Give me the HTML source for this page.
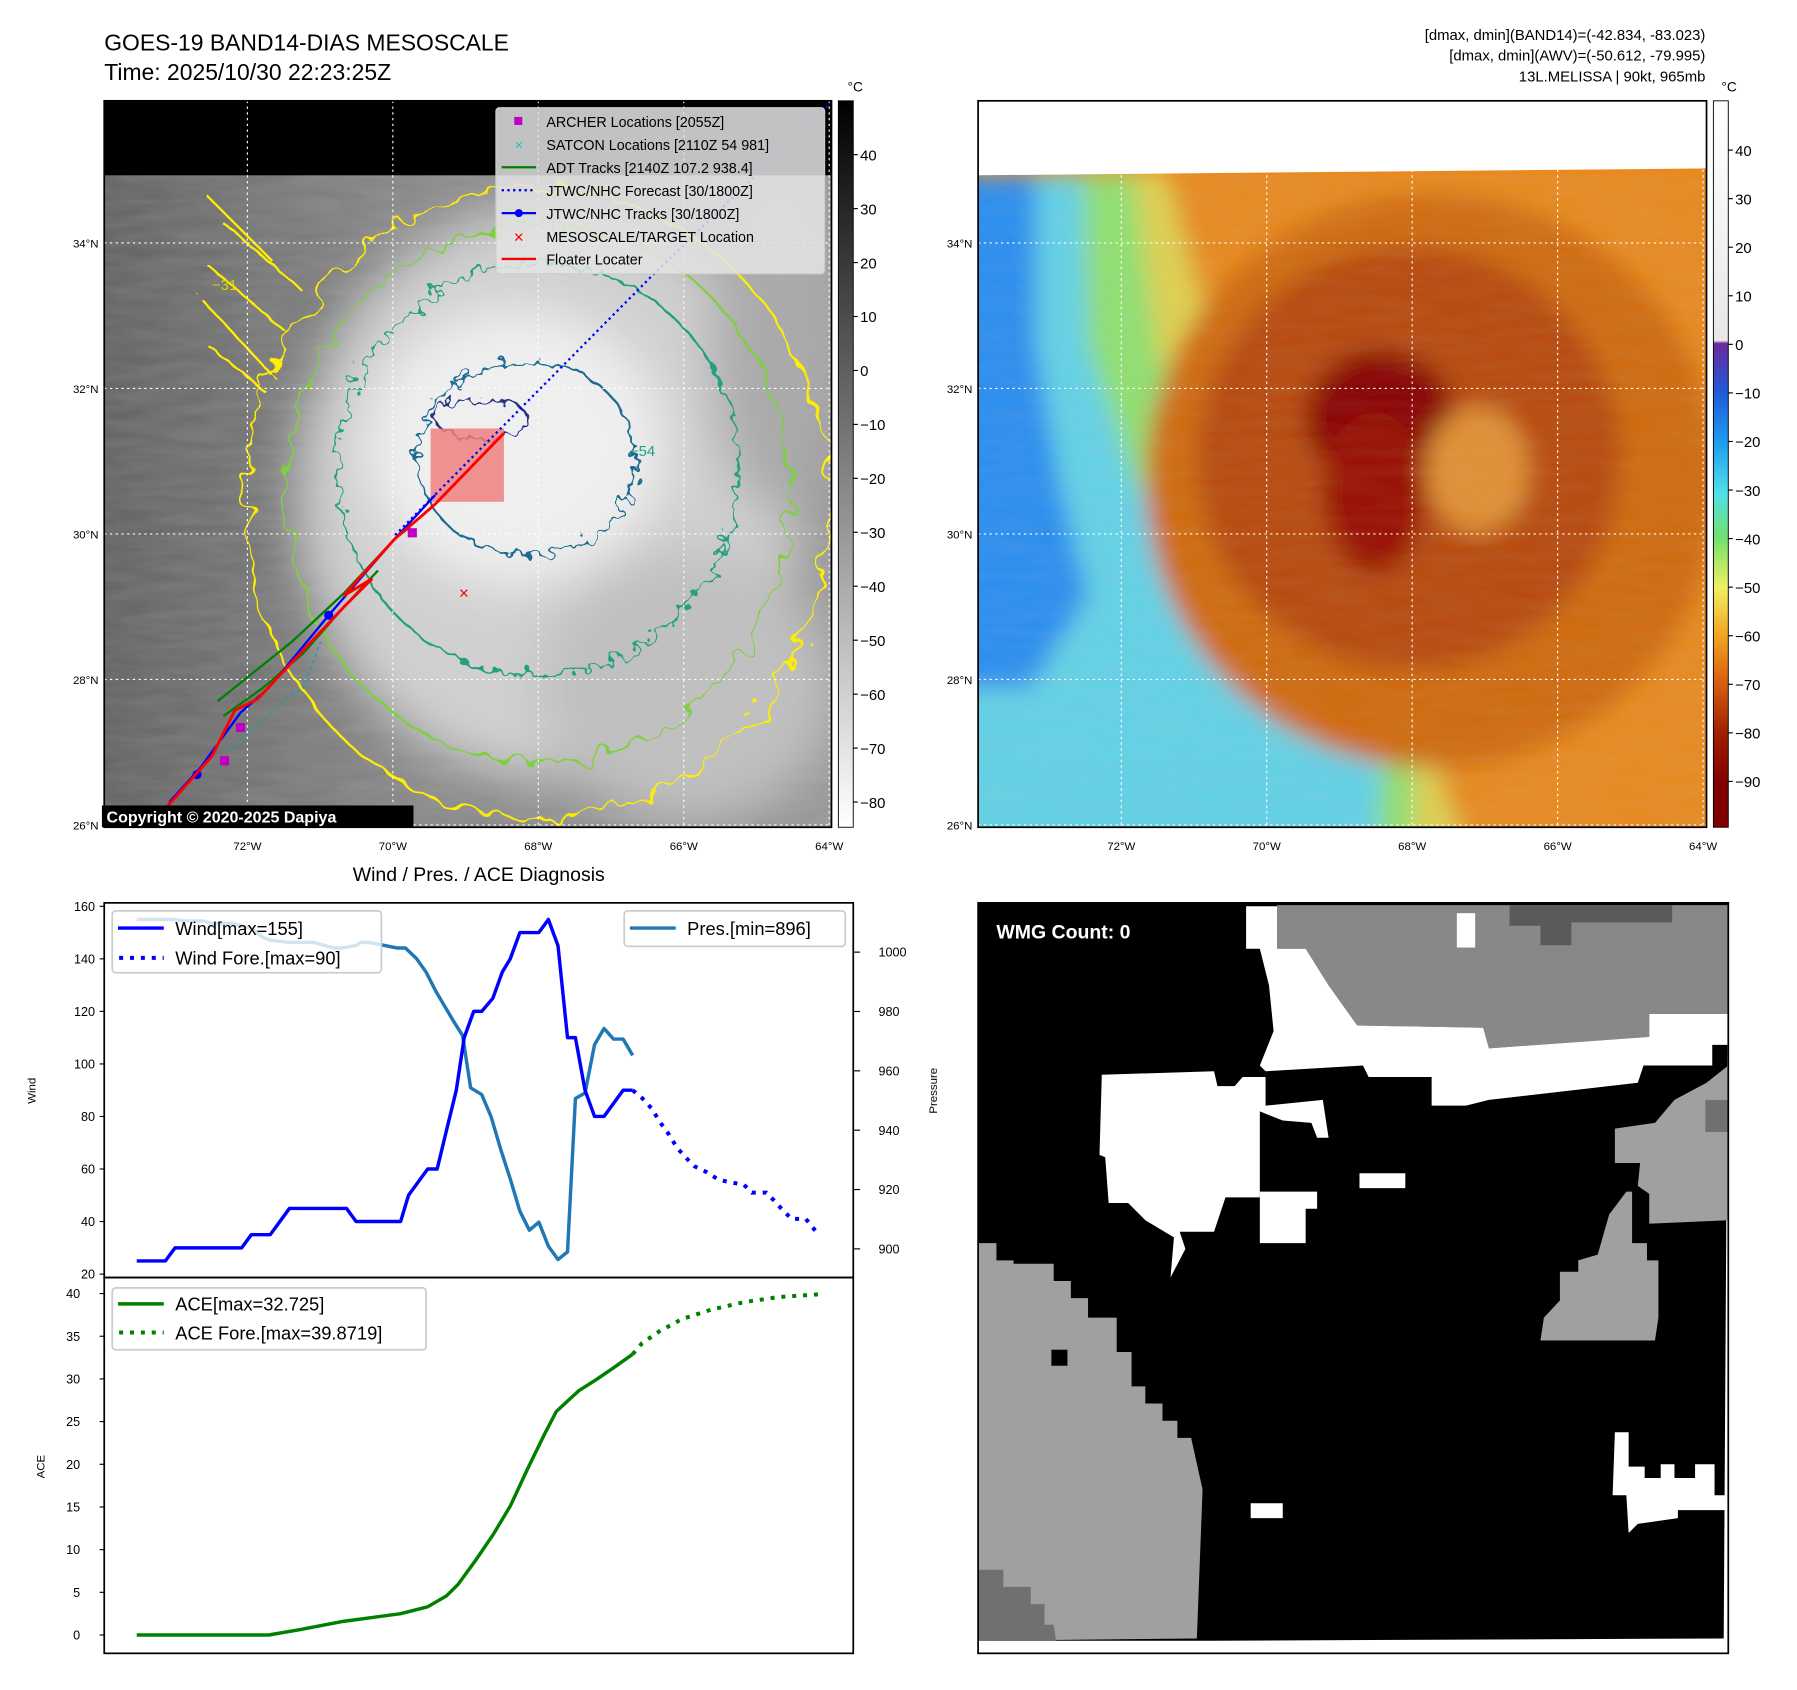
<!DOCTYPE html>
<html><head><meta charset="utf-8"><style>
html,body{margin:0;padding:0;background:#fff;}
svg{display:block;font-family:"Liberation Sans","DejaVu Sans",sans-serif;}
</style></head><body>
<svg id="root" width="1797" height="1690" viewBox="0 0 1569 1475" preserveAspectRatio="none" xmlns="http://www.w3.org/2000/svg">
<defs>
<filter id="blur8" x="-20%" y="-20%" width="140%" height="140%"><feGaussianBlur stdDeviation="10"/></filter>
<filter id="blur20" x="-30%" y="-30%" width="160%" height="160%"><feGaussianBlur stdDeviation="22"/></filter>
<filter id="wig" x="-10%" y="-10%" width="120%" height="120%"><feTurbulence type="fractalNoise" baseFrequency="0.05" numOctaves="2" seed="3"/><feDisplacementMap in="SourceGraphic" scale="28"/></filter>
<filter id="wig2" x="-10%" y="-10%" width="120%" height="120%"><feTurbulence type="fractalNoise" baseFrequency="0.09" numOctaves="2" seed="7"/><feDisplacementMap in="SourceGraphic" scale="22"/></filter>
<filter id="tex" x="0" y="0" width="100%" height="100%"><feTurbulence type="fractalNoise" baseFrequency="0.02 0.12" numOctaves="3" seed="5"/><feColorMatrix type="matrix" values="0 0 0 0 0.5 0 0 0 0 0.5 0 0 0 0 0.5 0 0 0 0.5 0"/></filter>
<clipPath id="clipL"><rect x="91" y="88" width="635" height="634"/></clipPath>
<clipPath id="clipR"><rect x="854" y="88" width="636" height="634"/></clipPath>
<linearGradient id="cbGray" x1="0" y1="0" x2="0" y2="1"><stop offset="0" stop-color="#000"/><stop offset="1" stop-color="#fff"/></linearGradient>
<linearGradient id="cbColor" x1="0" y1="0" x2="0" y2="1">
<stop offset="0" stop-color="#ffffff"/><stop offset="0.33" stop-color="#e8e8e8"/>
<stop offset="0.334" stop-color="#6a2a9a"/><stop offset="0.4" stop-color="#1f5ad8"/><stop offset="0.47" stop-color="#1e9cf0"/>
<stop offset="0.54" stop-color="#50e0e8"/><stop offset="0.6" stop-color="#70e070"/><stop offset="0.67" stop-color="#f0f060"/>
<stop offset="0.74" stop-color="#f0a020"/><stop offset="0.8" stop-color="#d86010"/><stop offset="0.87" stop-color="#a02000"/>
<stop offset="0.94" stop-color="#800000"/><stop offset="1" stop-color="#800000"/></linearGradient>
<linearGradient id="grayBg" x1="0" y1="0" x2="1" y2="0"><stop offset="0" stop-color="#606060"/><stop offset="0.4" stop-color="#858585"/><stop offset="1" stop-color="#959595"/></linearGradient>
</defs>

<text x="91" y="44" font-size="20">GOES-19 BAND14-DIAS MESOSCALE</text>
<text x="91" y="70" font-size="20">Time: 2025/10/30 22:23:25Z</text>
<g font-size="13" text-anchor="end">
<text x="1489" y="35">[dmax, dmin](BAND14)=(-42.834, -83.023)</text>
<text x="1489" y="53">[dmax, dmin](AWV)=(-50.612, -79.995)</text>
<text x="1489" y="71">13L.MELISSA | 90kt, 965mb</text>
</g>

<g>
<g clip-path="url(#clipL)">
<rect x="91" y="88" width="635" height="634" fill="url(#grayBg)"/>
<rect x="91" y="153" width="635" height="569" filter="url(#tex)" opacity="0.5"/>
<g filter="url(#blur20)">
<ellipse cx="480" cy="430" rx="220" ry="250" fill="#d0d0d0"/>
<ellipse cx="450" cy="390" rx="130" ry="120" fill="#efefef"/>
<ellipse cx="600" cy="600" rx="130" ry="120" fill="#c0c0c0"/>
<ellipse cx="680" cy="300" rx="60" ry="150" fill="#aaaaaa"/>
</g>
<g fill="none" stroke-width="2">
<ellipse cx="470" cy="440" rx="255" ry="275" stroke="#ffee00" filter="url(#wig)"/>
<ellipse cx="470" cy="430" rx="220" ry="235" stroke="#7ed040" filter="url(#wig)"/>
<ellipse cx="470" cy="410" rx="175" ry="180" stroke="#20a080" filter="url(#wig2)"/>
<ellipse cx="460" cy="400" rx="95" ry="85" stroke="#1a6a90" filter="url(#wig2)"/>
<ellipse cx="420" cy="365" rx="40" ry="18" stroke="#283080" filter="url(#wig2)"/>
<path d="M180 170 L240 230 M190 190 L260 250 M180 230 L250 290 M175 260 L240 330 M180 300 L230 340" stroke="#ffee00" filter="url(#wig2)"/>
</g>
<rect x="91" y="88" width="635" height="65" fill="#000"/>
<rect x="376" y="374" width="64" height="64" fill="#f08080" opacity="0.85"/>
<g stroke="#fff" stroke-dasharray="2,3">
<line x1="216" y1="88" x2="216" y2="722"/><line x1="343" y1="88" x2="343" y2="722"/><line x1="470" y1="88" x2="470" y2="722"/><line x1="597" y1="88" x2="597" y2="722"/><line x1="724" y1="88" x2="724" y2="722"/>
<line x1="91" y1="212" x2="726" y2="212"/><line x1="91" y1="339" x2="726" y2="339"/><line x1="91" y1="466" x2="726" y2="466"/><line x1="91" y1="593" x2="726" y2="593"/><line x1="91" y1="720" x2="726" y2="720"/>
</g>
<polyline points="345,467 570,240 725,90" fill="none" stroke="#0000ee" stroke-width="2" stroke-dasharray="2,3"/>
<polyline points="190,612 255,560 300,518 345,470 358,460" fill="none" stroke="#008000" stroke-width="2"/>
<polyline points="195,625 230,600 265,570 300,530 330,498" fill="none" stroke="#008000" stroke-width="2"/>
<polyline points="200,655 250,610 265,600 280,560" fill="none" stroke="#20a0a0" stroke-width="1.5" stroke-dasharray="3,3"/>
<polyline points="148,700 175,670 210,622 235,600 287,537 345,470 380,432" fill="none" stroke="#0000ff" stroke-width="2"/>
<circle cx="287" cy="537" r="4" fill="#0000ff"/><circle cx="172" cy="676" r="4" fill="#0000ff"/>
<polyline points="145,705 185,660 205,620 225,610 300,530 325,505 300,520 345,470 365,453 380,440 440,378" fill="none" stroke="#ff0000" stroke-width="2.5"/>
<rect x="356" y="461" width="8" height="8" fill="#c000c0"/><rect x="192" y="660" width="8" height="8" fill="#c000c0"/><rect x="206" y="631" width="8" height="8" fill="#c000c0"/>
<text x="405" y="523" fill="#ff0000" font-size="15" text-anchor="middle">×</text>
<text x="185" y="253" fill="#e0d000" font-size="13">−31</text>
<text x="550" y="398" fill="#20a080" font-size="13">−54</text>
</g>
<rect x="91" y="88" width="635" height="634" fill="none" stroke="#000" stroke-width="1.5"/>
<g>
<rect x="433" y="94" width="287" height="145" rx="3" fill="#e4e4e4" fill-opacity="0.85" stroke="#ccc"/>
<g font-size="12.5">
<rect x="449" y="102" width="7" height="7" fill="#c000c0"/><text x="477" y="111">ARCHER Locations [2055Z]</text>
<text x="453" y="131" fill="#20c0c0" font-size="13" text-anchor="middle">×</text><text x="477" y="131">SATCON Locations [2110Z 54 981]</text>
<line x1="438" y1="146" x2="468" y2="146" stroke="#008000" stroke-width="2"/><text x="477" y="151">ADT Tracks [2140Z 107.2 938.4]</text>
<line x1="438" y1="166" x2="468" y2="166" stroke="#0000ee" stroke-width="2" stroke-dasharray="2,3"/><text x="477" y="171">JTWC/NHC Forecast [30/1800Z]</text>
<line x1="438" y1="186" x2="468" y2="186" stroke="#0000ff" stroke-width="2"/><circle cx="453" cy="186" r="3.5" fill="#00f"/><text x="477" y="191">JTWC/NHC Tracks [30/1800Z]</text>
<text x="453" y="212" fill="#ff0000" font-size="15" text-anchor="middle">×</text><text x="477" y="211">MESOSCALE/TARGET Location</text>
<line x1="438" y1="226" x2="468" y2="226" stroke="#ff0000" stroke-width="2"/><text x="477" y="231">Floater Locater</text>
</g></g>
<rect x="89" y="703" width="272" height="19" fill="#000"/>
<text x="93" y="718" fill="#fff" font-size="14" font-weight="bold">Copyright © 2020-2025 Dapiya</text>
</g>
<g font-size="10">
<g text-anchor="end"><text x="86" y="216">34°N</text><text x="86" y="343">32°N</text><text x="86" y="470">30°N</text><text x="86" y="597">28°N</text><text x="86" y="724">26°N</text></g>
<g text-anchor="middle"><text x="216" y="742">72°W</text><text x="343" y="742">70°W</text><text x="470" y="742">68°W</text><text x="597" y="742">66°W</text><text x="724" y="742">64°W</text></g>
</g>
<g>
<rect x="732" y="88" width="13" height="634" fill="url(#cbGray)" stroke="#000" stroke-width="0.8"/>
<text x="740" y="80" font-size="12">°C</text>
<g font-size="13" id="cbL"></g>
</g>

<g>
<g clip-path="url(#clipR)">
<rect x="854" y="88" width="636" height="634" fill="#e88a20"/>
<g filter="url(#blur8)">
<polygon points="820,153 1020,150 1060,300 1090,450 1120,560 1240,630 1290,760 820,760" fill="#e0d050"/>
<polygon points="820,153 990,152 1010,300 1040,420 1095,530 1180,590 1235,650 1235,760 820,760" fill="#90e070"/>
<polygon points="820,153 945,153 950,300 990,420 1060,510 1150,565 1210,625 1200,760 820,760" fill="#62d2e6"/>
<polygon points="820,153 905,153 905,300 925,420 950,520 900,600 820,600" fill="#2a8ef0"/>
<ellipse cx="1250" cy="420" rx="250" ry="250" fill="#d06a10"/>
<ellipse cx="1230" cy="400" rx="185" ry="185" fill="#b84808"/>
<ellipse cx="1205" cy="365" rx="65" ry="60" fill="#880000"/>
<ellipse cx="1200" cy="430" rx="45" ry="70" fill="#980a00"/>
<ellipse cx="1290" cy="410" rx="45" ry="55" fill="#e09030"/>
</g>
<rect x="854" y="153" width="636" height="569" filter="url(#tex)" opacity="0.25"/>
<polygon points="854,88 1490,88 1490,147 854,153" fill="#fff"/>
<g stroke="#fff" stroke-dasharray="2,3">
<line x1="979" y1="88" x2="979" y2="722"/><line x1="1106" y1="88" x2="1106" y2="722"/><line x1="1233" y1="88" x2="1233" y2="722"/><line x1="1360" y1="88" x2="1360" y2="722"/><line x1="1487" y1="88" x2="1487" y2="722"/>
<line x1="854" y1="212" x2="1490" y2="212"/><line x1="854" y1="339" x2="1490" y2="339"/><line x1="854" y1="466" x2="1490" y2="466"/><line x1="854" y1="593" x2="1490" y2="593"/><line x1="854" y1="720" x2="1490" y2="720"/>
</g>
</g>
<rect x="854" y="88" width="636" height="634" fill="none" stroke="#000" stroke-width="1.5"/>
</g>
<g font-size="10">
<g text-anchor="end"><text x="849" y="216">34°N</text><text x="849" y="343">32°N</text><text x="849" y="470">30°N</text><text x="849" y="597">28°N</text><text x="849" y="724">26°N</text></g>
<g text-anchor="middle"><text x="979" y="742">72°W</text><text x="1106" y="742">70°W</text><text x="1233" y="742">68°W</text><text x="1360" y="742">66°W</text><text x="1487" y="742">64°W</text></g>
</g>
<g>
<rect x="1496" y="88" width="13" height="634" fill="url(#cbColor)" stroke="#000" stroke-width="0.8"/>
<text x="1503" y="80" font-size="12">°C</text>
<g font-size="13" id="cbR"></g>
</g>

<text x="418" y="769" font-size="17" text-anchor="middle">Wind / Pres. / ACE Diagnosis</text>
<g id="windChart"></g>
<g id="aceChart"></g>

<g>
<rect x="854" y="788" width="655" height="655" fill="#fff"/>
<polygon points="854,788 1509,788 1505,1430 1058,1432 854,1432" fill="#000"/>
<polygon points="1115,790 1509,790 1509,885 1440,885 1440,905 1300,915 1295,897 1185,895 1160,860 1140,828 1115,828" fill="#888"/>
<polygon points="1318,790 1460,790 1460,805 1372,805 1372,825 1345,825 1345,808 1318,808" fill="#5a5a5a"/>
<polygon points="1088,791 1115,791 1115,828 1140,828 1160,860 1185,895 1295,897 1300,915 1440,905 1440,885 1509,885 1509,912 1495,912 1495,930 1435,930 1430,945 1300,960 1280,965 1250,965 1250,940 1195,940 1190,930 1105,935 1100,930 1112,900 1108,860 1100,828 1088,828" fill="#fff"/>
<rect x="1272" y="797" width="16" height="30" fill="#fff"/>
<polygon points="962,938 1060,935 1063,948 1078,948 1085,940 1105,940 1105,965 1155,960 1160,993 1150,993 1145,980 1120,978 1100,970 1100,1045 1070,1045 1060,1075 1030,1075 1035,1090 1022,1115 1025,1080 1000,1065 985,1050 968,1050 965,1010 960,1008" fill="#fff"/>
<polygon points="1100,1040 1150,1040 1150,1055 1140,1055 1140,1085 1100,1085" fill="#fff"/>
<rect x="1187" y="1024" width="40" height="13" fill="#fff"/>
<rect x="1092" y="1312" width="28" height="13" fill="#fff"/>
<polygon points="1410,985 1445,980 1462,960 1490,945 1509,930 1509,1065 1440,1068 1440,1042 1430,1035 1432,1015 1410,1015" fill="#a0a0a0"/>
<rect x="1489" y="960" width="20" height="28" fill="#707070"/>
<polygon points="1345,1170 1348,1150 1362,1135 1362,1110 1378,1110 1378,1100 1395,1095 1405,1060 1420,1040 1425,1040 1425,1085 1438,1085 1438,1100 1448,1100 1448,1150 1445,1170" fill="#a0a0a0"/>
<polygon points="854,1085 870,1085 870,1100 885,1100 885,1103 920,1103 920,1118 935,1118 935,1133 950,1133 950,1150 975,1150 975,1180 988,1180 988,1210 1000,1210 1000,1225 1015,1225 1015,1240 1028,1240 1028,1255 1040,1255 1050,1300 1045,1430 854,1432" fill="#a0a0a0"/>
<rect x="918" y="1178" width="14" height="14" fill="#000"/>
<polygon points="854,1370 876,1370 876,1385 900,1385 900,1400 912,1400 912,1418 920,1418 922,1432 854,1432" fill="#707070"/>
<polygon points="1410,1250 1422,1250 1422,1280 1436,1280 1436,1290 1450,1290 1450,1278 1462,1278 1462,1290 1480,1290 1480,1278 1497,1278 1497,1305 1509,1305 1509,1318 1465,1318 1465,1325 1430,1330 1422,1338 1420,1305 1408,1305" fill="#fff"/>
<rect x="854" y="788" width="655" height="655" fill="none" stroke="#000" stroke-width="1.5"/>
<text x="870" y="819" fill="#fff" font-size="17" font-weight="bold">WMG Count: 0</text>
</g>
</svg>

<script>
// ---- Chart data ----
var windHours = [0,18,24,66,72,84,96,132,138,166,171,183,189,195,201,206,212,217,224,230,235,241,253,259,265,271,276,282,288,294,300,306,312];
var windVals  = [25,25,30,30,35,35,45,45,40,40,50,60,60,75,90,110,120,120,125,135,140,150,150,155,145,110,110,90,80,80,85,90,90];
var foreHours = [312,318,324,329,335,340,346,351,358,366,373,382,387,396,401,407,412,421,429];
var foreVals  = [90,87,83,78,73,68,64,61,59,56,55,54,51,51,48,44,41,41,35];
var presHours = [0,24,30,42,48,61,73,79,84,96,111,124,129,138,141,146,164,169,176,182,188,193,199,205,210,217,223,229,235,241,247,253,259,265,271,276,282,288,294,300,306,312];
var presVals  = [1011,1011,1010.5,1010.5,1009.6,1009.6,1007.8,1005,1004,1003.3,1003.3,1001.4,1001.4,1002.3,1003.3,1003.3,1001.4,1001.4,997.8,993.3,987,982.4,977,971.9,954.3,952,944.4,933.5,923.6,912.7,906.3,909,900.9,896.4,899,950.7,952.5,968.8,974.3,970.7,970.7,965.2];
var aceHours = [0,83,102,130,166,183,195,202,213,224,235,246,257,264,278,289,300,312];
var aceVals  = [0,0,0.6,1.6,2.5,3.3,4.6,5.9,8.7,11.7,15.1,19.5,23.7,26.2,28.6,29.9,31.3,32.9];
var aceForeHours = [312,318,329,343,361,382,404,429];
var aceForeVals  = [32.9,34.2,35.6,37,38.1,39,39.6,39.9];
var windTicks = [20,40,60,80,100,120,140,160];
var presTicks = [900,920,940,960,980,1000];
var aceTicks = [0,5,10,15,20,25,30,35,40];
var cbLTicks = [40,30,20,10,0,-10,-20,-30,-40,-50,-60,-70,-80];
var cbRTicks = [40,30,20,10,0,-10,-20,-30,-40,-50,-60,-70,-80,-90];

var NS = "http://www.w3.org/2000/svg";
function mk(tag, attrs, parent){ var e=document.createElementNS(NS,tag); for(var k in attrs) e.setAttribute(k,attrs[k]); parent.appendChild(e); return e; }
function txt(x,y,s,size,anchor,parent){ var t=mk("text",{x:x,y:y,"font-size":size,"text-anchor":anchor},parent); t.textContent=s; return t; }

var X0=91, X1=745;
function xh(h){ return X0 + (h + 20.5) / 471.3 * (X1 - X0); }
function yWind(v){ return 791 + (160 - v) * (1112 - 791) / 140; }
function yPres(p){ return 831 + (1000 - p) * (1090 - 831) / 100; }
function yAce(v){ return 1427 - v * (1427 - 1129) / 40; }
function yCbL(v){ return 135 + (40 - v) * (700 - 135) / 120; }
function yCbR(v){ return 131 + (40 - v) * (682 - 131) / 130; }
function pts(hs, vs, yf){ return hs.map(function(h,i){ return xh(h).toFixed(1)+","+yf(vs[i]).toFixed(1); }).join(" "); }

var cbL=document.getElementById("cbL");
cbLTicks.forEach(function(v){
  var y=yCbL(v);
  mk("line",{x1:745,y1:y,x2:749,y2:y,stroke:"#000"},cbL);
  var t=txt(751,y+5,(v<0?"−"+(-v):String(v)),13,"start",cbL);
  
  
});
var cbR=document.getElementById("cbR");
cbRTicks.forEach(function(v){
  var y=yCbR(v);
  mk("line",{x1:1509,y1:y,x2:1513,y2:y,stroke:"#000"},cbR);
  var t=txt(1515,y+5,(v<0?"−"+(-v):String(v)),13,"start",cbR);
  
  
});

var wc=document.getElementById("windChart");
mk("rect",{x:91,y:788,width:654,height:327,fill:"#fff",stroke:"#000","stroke-width":1.5},wc);
windTicks.forEach(function(v){ var y=yWind(v); mk("line",{x1:87,y1:y,x2:91,y2:y,stroke:"#000"},wc); txt(83,y+4,String(v),11,"end",wc); });
presTicks.forEach(function(v){ var y=yPres(v); mk("line",{x1:745,y1:y,x2:751,y2:y,stroke:"#000"},wc); txt(767,y+4,String(v),11,"start",wc); });
var lw=txt(0,0,"Wind",10,"middle",wc); lw.setAttribute("transform","translate(31,952) rotate(-90)");


var lp=txt(0,0,"Pressure",10,"middle",wc); lp.setAttribute("transform","translate(818,952) rotate(-90)");


var pl=mk("polyline",{points:pts(presHours,presVals,yPres),fill:"none",stroke:"#1f77b4","stroke-width":3,"stroke-linejoin":"round"},wc);


var wl=mk("polyline",{points:pts(windHours,windVals,yWind),fill:"none",stroke:"#0000ff","stroke-width":3,"stroke-linejoin":"round"},wc);


var wf=mk("polyline",{points:pts(foreHours,foreVals,yWind),fill:"none",stroke:"#0000ff","stroke-width":3.5,"stroke-dasharray":"3.5,6"},wc);


var lg1=mk("g",{},wc);


mk("rect",{x:98,y:795,width:235,height:54,rx:3,fill:"#fff","fill-opacity":0.8,stroke:"#ccc","stroke-width":1.5},lg1);
mk("line",{x1:103,y1:810,x2:143,y2:810,stroke:"#0000ff","stroke-width":3},lg1);
txt(153,816,"Wind[max=155]",16,"start",lg1);
mk("line",{x1:104,y1:836,x2:143,y2:836,stroke:"#0000ff","stroke-width":3.5,"stroke-dasharray":"3.5,6"},lg1);
txt(153,842,"Wind Fore.[max=90]",16,"start",lg1);
var lg2=mk("g",{},wc);


mk("rect",{x:545,y:795,width:193,height:31,rx:3,fill:"#fff","fill-opacity":0.8,stroke:"#ccc","stroke-width":1.5},lg2);
mk("line",{x1:550,y1:810,x2:590,y2:810,stroke:"#1f77b4","stroke-width":3},lg2);
txt(600,816,"Pres.[min=896]",16,"start",lg2);

var ac=document.getElementById("aceChart");
mk("rect",{x:91,y:1115,width:654,height:328,fill:"none",stroke:"#000","stroke-width":1.5},ac);
aceTicks.forEach(function(v){ var y=yAce(v); mk("line",{x1:87,y1:y,x2:91,y2:y,stroke:"#000"},ac); txt(70,y+4,String(v),11,"end",ac); });
var la=txt(0,0,"ACE",10,"middle",ac); la.setAttribute("transform","translate(39,1280) rotate(-90)");


var al=mk("polyline",{points:pts(aceHours,aceVals,yAce),fill:"none",stroke:"#008000","stroke-width":3,"stroke-linejoin":"round"},ac);


var af=mk("polyline",{points:pts(aceForeHours,aceForeVals,yAce),fill:"none",stroke:"#008000","stroke-width":3.5,"stroke-dasharray":"3.5,6"},ac);


var lg3=mk("g",{},ac);


mk("rect",{x:98,y:1124,width:274,height:54,rx:3,fill:"#fff","fill-opacity":0.8,stroke:"#ccc","stroke-width":1.5},lg3);
mk("line",{x1:103,y1:1138,x2:143,y2:1138,stroke:"#008000","stroke-width":3},lg3);
txt(153,1144,"ACE[max=32.725]",16,"start",lg3);
mk("line",{x1:104,y1:1163,x2:143,y2:1163,stroke:"#008000","stroke-width":3.5,"stroke-dasharray":"3.5,6"},lg3);
txt(153,1169,"ACE Fore.[max=39.8719]",16,"start",lg3);
</script>
</body></html>
